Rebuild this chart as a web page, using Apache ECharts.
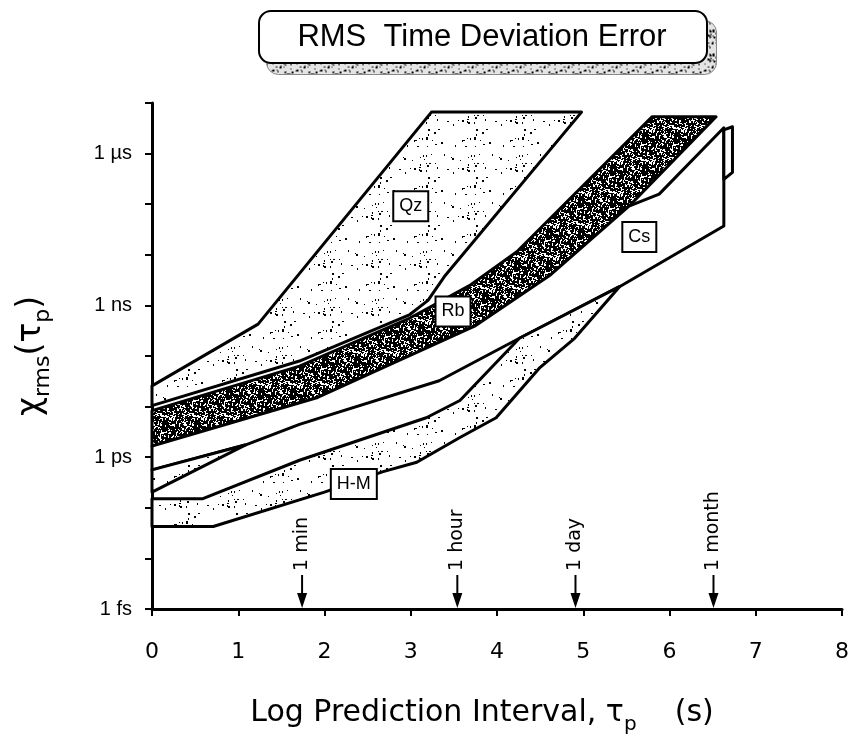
<!DOCTYPE html>
<html>
<head>
<meta charset="utf-8">
<script src="https://cdn.jsdelivr.net/npm/echarts@6/dist/echarts.min.js"></script>
<style>
  html, body { margin: 0; padding: 0; background: #fff; }
  #chart { width: 852px; height: 740px; }
</style>
</head>
<body>
<div id="chart"></div>
<script>
// x = log10(tau_p / s), y = log10(rms time error / s)
var yTickNames = { '-15': '1 fs', '-12': '1 ps', '-9': '1 ns', '-6': '1 µs' };

// band outlines (x, y pairs walked round each band)
var qzX = [0, 1.23, 3.24, 4.98, 3.39, 3.20, 2.99, 1.71, 0];
var qzY = [-10.59, -9.37, -5.18, -5.18, -8.43, -8.90, -9.18, -10.10, -10.98];

var rbX = [0, 1.71, 2.99, 3.22, 3.68, 4.23, 5.80, 6.54, 5.53, 4.61, 3.74, 1.92, 0];
var rbY = [-11.08, -10.20, -9.25, -9.04, -8.61, -7.94, -5.27, -5.27, -7.04, -8.41, -9.41, -10.82, -11.78];

var csX = [0, 1.92, 3.74, 4.61, 5.53, 5.88, 6.63, 6.63, 5.42, 4.26, 3.33, 1.71, 1.08, 0];
var csY = [-11.78, -10.82, -9.41, -8.41, -7.04, -6.80, -5.49, -7.43, -8.63, -9.65, -10.49, -11.35, -11.76, -12.25];

var csTabX = [6.63, 6.73, 6.73, 6.63];
var csTabY = [-5.53, -5.47, -6.37, -6.51];

var wedgeX = [0, 1.08, 0];
var wedgeY = [-12.25, -11.76, -12.69];

var hmX = [0, 0.59, 1.71, 3.18, 3.57, 4.26, 5.42, 4.90, 4.49, 3.99, 3.57, 3.07, 2.67, 2.00, 0.71, 0];
var hmY = [-12.82, -12.82, -12.06, -11.22, -10.88, -9.65, -8.63, -9.65, -10.24, -11.22, -11.61, -12.10, -12.29, -12.69, -13.37, -13.37];

// band labels
var labelText = ['Qz', 'Rb', 'Cs', 'H-M'];
var labelX = [3.0, 3.49, 5.65, 2.34];
var labelY = [-7.04, -9.12, -7.65, -12.53];

// time markers along the x axis
var markerText = ['1 min', '1 hour', '1 day', '1 month'];
var markerX = [1.74, 3.54, 4.91, 6.51];

function stipple(size, count, w, seed, base) {
  var c = document.createElement('canvas');
  c.width = c.height = size;
  var ctx = c.getContext('2d');
  ctx.fillStyle = base;
  ctx.fillRect(0, 0, size, size);
  ctx.fillStyle = '#000';
  var s = seed;
  function next() { s = (s * 16807) % 2147483647; return s / 2147483647; }
  for (var i = 0; i < count; i++) {
    ctx.fillRect(Math.floor(next() * size), Math.floor(next() * size),
      1 + Math.floor(next() * w), 1 + Math.floor(next() * 2));
  }
  return c;
}

var lightFill = { image: stipple(48, 40, 2, 7, '#fff'), repeat: 'repeat' };
var darkFill = { image: stipple(32, 620, 2, 11, '#fff'), repeat: 'repeat' };
var shadowFill = { image: stipple(24, 40, 2, 3, '#e4e4e4'), repeat: 'repeat' };

function band(xs, ys, fill, z) {
  return {
    type: 'custom',
    coordinateSystem: 'cartesian2d',
    z: z,
    silent: true,
    encode: { x: 0, y: 1 },
    data: xs.map(function (x, i) { return [x, ys[i]]; }),
    renderItem: function (params, api) {
      if (params.dataIndex !== 0) return null;
      var pts = xs.map(function (x, i) { return api.coord([x, ys[i]]); });
      return {
        type: 'polygon',
        shape: { points: pts },
        style: { fill: fill, stroke: '#000', lineWidth: 3, lineJoin: 'round' }
      };
    }
  };
}

var chart = echarts.init(document.getElementById('chart'));

chart.setOption({
  animation: false,
  backgroundColor: '#fff',
  grid: { left: 152, right: 9, top: 103, bottom: 127 },
  graphic: [
    {
      type: 'rect', left: 266, top: 20, z: 1,
      shape: { width: 450, height: 54, r: 12 },
      style: { fill: shadowFill, stroke: '#888', lineWidth: 1 }
    },
    {
      type: 'rect', left: 258, top: 10, z: 2,
      shape: { width: 448, height: 52, r: 12 },
      style: { fill: '#fff', stroke: '#000', lineWidth: 2 }
    },
    {
      type: 'text', x: 482, y: 37, z: 3,
      style: {
        text: 'RMS  Time Deviation Error',
        font: '31px "Liberation Sans", Arial, sans-serif',
        fill: '#000', align: 'center', verticalAlign: 'middle'
      }
    }
  ],
  xAxis: {
    type: 'value', min: 0, max: 8, interval: 1,
    axisLine: { lineStyle: { color: '#000', width: 3 } },
    axisTick: { length: 7, lineStyle: { color: '#000', width: 2 } },
    splitLine: { show: false },
    axisLabel: { margin: 32, fontSize: 22, color: '#000', fontFamily: 'DejaVu Sans' },
    name: '{a|Log Prediction Interval, τ}{b|p}{a|    (s)}',
    nameLocation: 'middle',
    nameGap: 82,
    nameTextStyle: {
      padding: [0, 30, 0, 0],
      rich: {
        a: { fontSize: 30, fontFamily: 'DejaVu Sans', color: '#000', lineHeight: 38 },
        b: { fontSize: 20, fontFamily: 'DejaVu Sans', color: '#000', verticalAlign: 'bottom', padding: [24, 0, 0, 0] }
      }
    }
  },
  yAxis: {
    type: 'value', min: -15, max: -5, interval: 1,
    axisLine: { lineStyle: { color: '#000', width: 3 } },
    axisTick: { length: 7, lineStyle: { color: '#000', width: 2 } },
    splitLine: { show: false },
    axisLabel: {
      margin: 20, fontSize: 20, color: '#000', fontFamily: 'Liberation Sans',
      formatter: function (v) { return yTickNames[String(v)] || ''; }
    },
    name: '{a|χ}{b|rms}{a|(τ}{b|p}{a|)}',
    nameLocation: 'middle',
    nameRotate: 90,
    nameGap: 98,
    nameTextStyle: {
      rich: {
        a: { fontSize: 33, fontFamily: 'DejaVu Sans', color: '#000', lineHeight: 40 },
        b: { fontSize: 22, fontFamily: 'DejaVu Sans', color: '#000', verticalAlign: 'bottom', padding: [24, 0, 0, 0] }
      }
    }
  },
  series: [
    band(qzX, qzY, lightFill, 2),
    band(rbX, rbY, darkFill, 3),
    band(csX, csY, '#fff', 4),
    band(csTabX, csTabY, '#fff', 4),
    band(wedgeX, wedgeY, lightFill, 5),
    band(hmX, hmY, lightFill, 5),
    {
      type: 'custom',
      z: 6,
      silent: true,
      encode: { x: 0, y: 1 },
      data: markerX.map(function (x, i) { return [x, -15]; }),
      renderItem: function (params, api) {
        var p = api.coord([api.value(0), api.value(1)]);
        return {
          type: 'group',
          children: [
            { type: 'line', shape: { x1: p[0], y1: p[1] - 34, x2: p[0], y2: p[1] - 12 },
              style: { stroke: '#000', lineWidth: 2 } },
            { type: 'polygon', shape: { points: [[p[0] - 5, p[1] - 16], [p[0] + 5, p[1] - 16], [p[0], p[1] - 1]] },
              style: { fill: '#000' } },
            { type: 'text', x: p[0], y: p[1] - 38, rotation: Math.PI / 2,
              style: { text: markerText[params.dataIndex], fill: '#000',
                font: '19px "DejaVu Sans", sans-serif', align: 'left', verticalAlign: 'middle' } }
          ]
        };
      }
    },
    {
      type: 'custom',
      z: 8,
      silent: true,
      encode: { x: 0, y: 1 },
      data: labelX.map(function (x, i) { return [x, labelY[i]]; }),
      renderItem: function (params, api) {
        var p = api.coord([api.value(0), api.value(1)]);
        return {
          type: 'text', x: p[0], y: p[1],
          style: {
            text: labelText[params.dataIndex], fill: '#000',
            font: '18px "Liberation Sans", Arial, sans-serif',
            align: 'center', verticalAlign: 'middle',
            backgroundColor: '#fff', borderColor: '#000', borderWidth: 2,
            padding: [6, 5, 4, 5]
          }
        };
      }
    }
  ]
});
</script>
</body>
</html>
